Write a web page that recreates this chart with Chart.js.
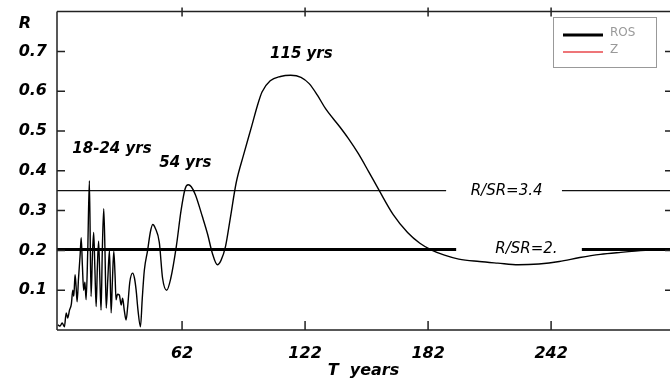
<!DOCTYPE html>
<html>
<head>
<meta charset="utf-8">
<script src="https://cdn.jsdelivr.net/npm/chart.js@4.4.1/dist/chart.umd.min.js"></script>
<style>
  html, body { margin: 0; padding: 0; background: #fff; }
  #wrap { width: 670px; height: 382px; position: relative; }
</style>
</head>
<body>
<div id="wrap"><canvas id="spectrum"></canvas></div>
<script>
// periods (years) and R values of the ROS curve
const periods = [1.4, 2.5, 3.5, 4.6, 5.5, 6.2, 7.1, 8.0, 8.7, 9.2, 9.8, 10.3, 10.8, 11.5, 12.3, 12.8, 13.4, 14.0,
  14.6, 15.2, 16.0, 16.8, 17.6, 18.3, 18.9, 19.5, 20.1, 20.7, 21.3, 21.9, 22.5, 23.1, 23.8, 24.4, 25.0, 25.8,
  26.6, 27.4, 28.0, 28.7, 29.3, 29.8, 30.5, 31.4, 32.3, 33.0, 33.8, 34.7, 35.5, 36.5, 37.9, 38.8, 39.6, 40.5,
  41.7, 42.6, 43.6, 45.2, 46.5, 47.7, 49.0, 50.9, 52.5, 54.5, 56.5, 59.2, 61.5, 63.5, 65.0, 66.5, 68.5, 71.9,
  74.5, 76.7, 79.2, 81.0, 83.2, 85.5, 88.4, 92, 96, 98.7, 101, 105, 110, 115, 120, 124, 128, 132, 139, 143, 148,
  153, 158, 165, 172, 178, 184, 190, 197, 207, 216, 226, 236, 246, 256, 266, 276, 288, 300];
const rosValues = [0.013, 0.01, 0.018, 0.008, 0.043, 0.03, 0.05, 0.065, 0.1, 0.085, 0.139, 0.11, 0.071, 0.13, 0.19, 0.232, 0.16, 0.1,
  0.12, 0.076, 0.2, 0.375, 0.084, 0.19, 0.245, 0.15, 0.059, 0.16, 0.223, 0.13, 0.05, 0.2, 0.305, 0.2, 0.055, 0.13,
  0.2, 0.043, 0.12, 0.198, 0.14, 0.076, 0.09, 0.088, 0.063, 0.08, 0.05, 0.025, 0.06, 0.12, 0.143, 0.13, 0.1, 0.05,
  0.008, 0.08, 0.15, 0.2, 0.245, 0.265, 0.255, 0.22, 0.13, 0.1, 0.13, 0.21, 0.3, 0.355, 0.365, 0.36, 0.34, 0.285,
  0.24, 0.194, 0.164, 0.175, 0.21, 0.28, 0.37, 0.44, 0.513, 0.563, 0.598, 0.626, 0.637, 0.64, 0.635, 0.619, 0.59, 0.556, 0.51, 0.482, 0.443,
  0.398, 0.352, 0.29, 0.245, 0.218, 0.2, 0.188, 0.178, 0.172, 0.168, 0.164, 0.166, 0.172, 0.182, 0.19, 0.195, 0.2, 0.203];

// reference levels
const level34 = 0.35;
const level2 = 0.202;

const xTicks = [62, 122, 182, 242];
const yTicks = [0.1, 0.2, 0.3, 0.4, 0.5, 0.6, 0.7];

// text labels in the plot: [text, T, R]
const notes = [
  ['115 yrs', 120.2, 0.694],
  ['18-24 yrs', 27.8, 0.455],
  ['54 yrs', 63.6, 0.419]
];
// level labels: [text, T, R, gap from T, gap to T]
const levelNotes = [
  ['R/SR=3.4', 220.3, level34, 190.8, 247.3],
  ['R/SR=2.', 230.0, level2, 195.7, 257.0]
];

const FONT = '"DejaVu Sans", sans-serif';

function levelLine(level, gapFrom, gapTo) {
  return [
    {x: 1, y: level}, {x: gapFrom, y: level},
    {x: (gapFrom + gapTo) / 2, y: null},
    {x: gapTo, y: level}, {x: 300, y: level}
  ];
}

const frame = {
  id: 'frame',
  afterDraw(chart) {
    const c = chart.ctx;
    const a = chart.chartArea;
    const xs = chart.scales.x, ys = chart.scales.y;
    c.save();
    c.strokeStyle = '#222';
    c.lineWidth = 1.5;
    c.beginPath();
    c.moveTo(a.left, a.top); c.lineTo(a.right, a.top);
    c.moveTo(a.left, a.top); c.lineTo(a.left, a.bottom);
    c.moveTo(a.left, a.bottom); c.lineTo(a.right, a.bottom);
    for (const v of yTicks) {
      const y = ys.getPixelForValue(v);
      c.moveTo(a.left, y); c.lineTo(a.left + 8, y);
      c.moveTo(a.right - 5, y); c.lineTo(a.right, y);
    }
    for (const v of xTicks) {
      const x = xs.getPixelForValue(v);
      c.moveTo(x, a.bottom); c.lineTo(x, a.bottom - 9);
      c.moveTo(x, a.top - 4); c.lineTo(x, a.top + 5);
    }
    c.stroke();

    // labels
    c.fillStyle = '#000';
    c.font = 'italic bold 15px ' + FONT;
    c.textAlign = 'center';
    c.textBaseline = 'middle';
    for (const n of notes) {
      c.fillText(n[0], xs.getPixelForValue(n[1]), ys.getPixelForValue(n[2]));
    }
    c.font = 'italic 15px ' + FONT;
    for (const n of levelNotes) {
      c.fillText(n[0], xs.getPixelForValue(n[1]), ys.getPixelForValue(n[2]));
    }
    c.font = 'italic bold 16px ' + FONT;
    c.fillText('R', 25, 24);

    // legend box
    c.strokeStyle = '#999';
    c.lineWidth = 1;
    c.strokeRect(553.5, 17.5, 103, 50);
    c.font = '12px ' + FONT;
    c.textAlign = 'left';
    chart.data.datasets.filter(d => d.inLegend).forEach((d, i) => {
      const y = 35 + i * 17;
      c.strokeStyle = d.borderColor;
      c.lineWidth = d.legendWidth;
      c.beginPath(); c.moveTo(563, y); c.lineTo(603, y); c.stroke();
      c.fillStyle = '#999';
      c.fillText(d.label, 610, y - 2);
    });
    c.restore();
  }
};

new Chart(document.getElementById('spectrum'), {
  type: 'line',
  data: {
    datasets: [
      {
        label: 'ROS',
        inLegend: true,
        legendWidth: 3,
        data: periods.map((t, i) => ({x: t, y: rosValues[i]})),
        borderColor: '#000',
        borderWidth: 1.4,
        pointRadius: 0,
        cubicInterpolationMode: 'monotone'
      },
      {
        label: 'Z',
        inLegend: true,
        legendWidth: 1.5,
        data: [],
        borderColor: '#e8474b',
        borderWidth: 1,
        pointRadius: 0
      },
      {
        label: 'R/SR=3.4',
        data: levelLine(level34, levelNotes[0][3], levelNotes[0][4]),
        borderColor: '#111',
        borderWidth: 1.2,
        pointRadius: 0,
        spanGaps: false
      },
      {
        label: 'R/SR=2.',
        data: levelLine(level2, levelNotes[1][3], levelNotes[1][4]),
        borderColor: '#000',
        borderWidth: 3,
        pointRadius: 0,
        spanGaps: false
      }
    ]
  },
  options: {
    responsive: true,
    maintainAspectRatio: false,
    animation: false,
    layout: { padding: { top: 10, right: 0, left: 0, bottom: 0 } },
    plugins: { legend: { display: false }, tooltip: { enabled: false } },
    scales: {
      x: {
        type: 'linear',
        min: 1,
        max: 300,
        afterBuildTicks: s => { s.ticks = xTicks.map(v => ({value: v})); },
        afterFit: s => { s.height = 52; },
        grid: { display: false },
        border: { display: false },
        ticks: {
          padding: 6,
          color: '#000',
          font: { family: FONT, size: 16, style: 'italic', weight: 'bold' }
        },
        title: {
          display: true,
          text: 'T  years',
          color: '#000',
          padding: { top: 0, bottom: 2 },
          font: { family: FONT, size: 16, style: 'italic', weight: 'bold' }
        }
      },
      y: {
        min: 0,
        max: 0.8,
        afterBuildTicks: s => { s.ticks = yTicks.map(v => ({value: v})); },
        afterFit: s => { s.width = 57; },
        grid: { display: false },
        border: { display: false },
        ticks: {
          padding: 2,
          color: '#000',
          callback: v => v.toFixed(1),
          font: { family: FONT, size: 16, style: 'italic', weight: 'bold' }
        }
      }
    }
  },
  plugins: [frame]
});
</script>
</body>
</html>
